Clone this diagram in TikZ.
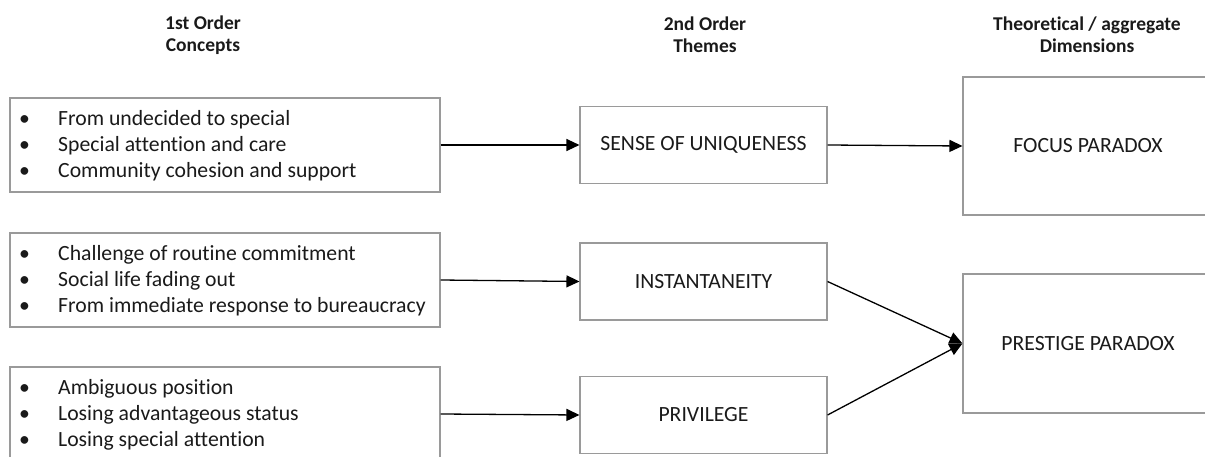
\documentclass[tikz,border=0pt]{standalone}
\usepackage{fontspec}
\setmainfont[Ligatures=NoCommon]{Carlito}
\usetikzlibrary{arrows.meta}
\definecolor{boxgray}{HTML}{9A9A9A}
\definecolor{ink}{HTML}{1A1A1A}
\tikzset{
  box/.style={draw=boxgray, line width=1.1pt, inner sep=0pt, fill=white},
  txt/.style={text=ink, font=\fontsize{21.7}{26}\selectfont, inner sep=0pt},
  head/.style={text=ink, font=\bfseries\fontsize{19.5}{22}\selectfont, align=center, inner sep=0pt},
  link/.style={draw=black, line width=1.3pt, -{Triangle[length=13pt,width=12pt]}}
}
\newcommand{\bl}[3]{\begin{tabular}{@{}p{39pt}@{}l@{}}\textbullet & #1\\ \textbullet & #2\\ \textbullet & #3\end{tabular}}
\begin{document}
\begin{tikzpicture}[x=1pt,y=-1pt]
\useasboundingbox (0,0) rectangle (1205,457);
\clip (0,0) rectangle (1205,457);
% headers
\node[head] (h1) at (203,35) {1st Order\\Concepts};
\node[head] (h2) at (705,35) {2nd Order\\Themes};
\node[head] (h3) at (1087,35) {Theoretical / aggregate\\Dimensions};
% left boxes
\node[box, minimum width=430pt, minimum height=94pt] (c1) at (225,145) {};
\node[box, minimum width=430pt, minimum height=94pt] (c2) at (225,280) {};
\node[box, minimum width=430pt, minimum height=94pt] (c3) at (225,414) {};
\node[txt, anchor=west] (t1) at (19,146) {\bl{From undecided to special}{Special attention and care}{Community cohesion and support}};
\node[txt, anchor=west] (t2) at (19,281) {\bl{Challenge of routine commitment}{Social life fading out}{From immediate response to bureaucracy}};
\node[txt, anchor=west] (t3) at (19,415) {\bl{Ambiguous position}{Losing advantageous status}{Losing special attention}};
% middle boxes
\node[box, txt, minimum width=247pt, minimum height=77pt] (m1) at (703.5,145) {SENSE OF UNIQUENESS};
\node[box, txt, minimum width=247pt, minimum height=77pt] (m2) at (703.5,281.5) {INSTANTANEITY};
\node[box, txt, minimum width=247pt, minimum height=77pt] (m3) at (703.5,415) {PRIVILEGE};
% right boxes
\node[box, minimum width=248pt, minimum height=138pt] (r1) at (1087,146) {};
\node[box, minimum width=248pt, minimum height=139pt] (r2) at (1087,343.5) {};
\node[txt] (rt1) at (1088,146) {FOCUS PARADOX};
\node[txt] (rt2) at (1088,343.5) {PRESTIGE PARADOX};
% connectors
\draw[link] (c1.east) -- (m1.west);
\draw[link] (c2.east) -- (m2.west);
\draw[link] (c3.east) -- (m3.west);
\draw[link] (m1.east) -- (r1.west);
\draw[link] (m2.east) -- (r2.west);
\draw[link] (m3.east) -- (r2.west);
\end{tikzpicture}
\end{document}
